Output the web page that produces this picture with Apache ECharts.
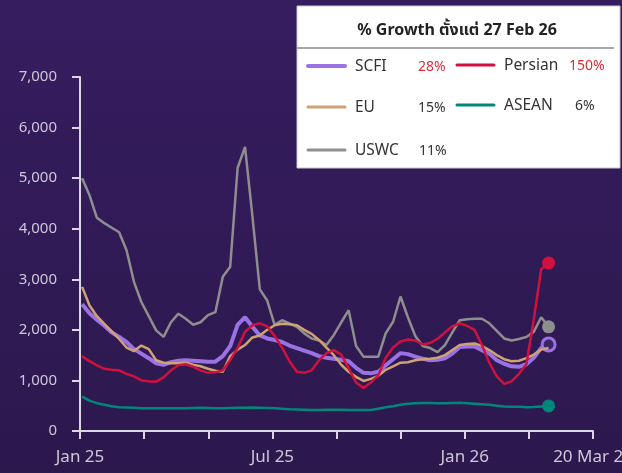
<!DOCTYPE html>
<html>
<head>
<meta charset="utf-8">
<script src="https://cdn.jsdelivr.net/npm/echarts@6/dist/echarts.min.js"></script>
<style>
  html, body { margin: 0; padding: 0; background: #2f1a54; }
  #chart { width: 622px; height: 473px; }
</style>
</head>
<body>
<div id="chart"></div>
<script>
// weekly publication dates (Fridays)
const weekDates = [
  '2025-01-03','2025-01-10','2025-01-17','2025-01-24','2025-01-31',
  '2025-02-07','2025-02-14','2025-02-21','2025-02-28',
  '2025-03-07','2025-03-14','2025-03-21','2025-03-28',
  '2025-04-04','2025-04-11','2025-04-18','2025-04-25',
  '2025-05-02','2025-05-09','2025-05-16','2025-05-23','2025-05-30',
  '2025-06-06','2025-06-13','2025-06-20','2025-06-27',
  '2025-07-04','2025-07-11','2025-07-18','2025-07-25',
  '2025-08-01','2025-08-08','2025-08-15','2025-08-22','2025-08-29',
  '2025-09-05','2025-09-12','2025-09-19','2025-09-26',
  '2025-10-03','2025-10-10','2025-10-17','2025-10-24','2025-10-31',
  '2025-11-07','2025-11-14','2025-11-21','2025-11-28',
  '2025-12-05','2025-12-12','2025-12-19','2025-12-26',
  '2026-01-02','2026-01-09','2026-01-16','2026-01-23','2026-01-30',
  '2026-02-06','2026-02-13','2026-02-20','2026-02-27',
  '2026-03-06','2026-03-13','2026-03-20'
];

const scfi = [
  2505, 2330, 2200, 2080, 1950, 1860, 1760, 1620, 1530, 1440, 1340, 1310, 1360, 1390, 1400, 1390, 1380,
  1370, 1370, 1480, 1680, 2100, 2250, 2060, 1890, 1830, 1800, 1760, 1690, 1640, 1590, 1540, 1480,
  1450, 1430, 1410, 1380, 1250, 1150, 1140, 1170, 1300, 1420, 1540, 1520, 1470, 1430, 1400, 1410,
  1440, 1530, 1660, 1670, 1670, 1600, 1530, 1400, 1330, 1280, 1270, 1320, 1450, 1640, 1710
];
const persian = [
  1480, 1380, 1300, 1230, 1210, 1200, 1130, 1080, 1000, 985, 975, 1060, 1200, 1300, 1320, 1270, 1200,
  1150, 1160, 1200, 1400, 1640, 1960, 2090, 2130, 2070, 1880, 1650, 1380, 1170, 1150, 1200, 1400,
  1540, 1600, 1510, 1240, 960, 850, 960, 1100, 1450, 1650, 1770, 1810, 1790, 1710, 1740, 1820,
  1950, 2070, 2130, 2080, 2000, 1700, 1350, 1080, 930, 980, 1130, 1320, 2200, 3200, 3320
];
const eu = [
  2850, 2480, 2270, 2120, 1970, 1820, 1650, 1580, 1690, 1620, 1400, 1350, 1340, 1340, 1350, 1310, 1280,
  1230, 1190, 1170, 1480, 1610, 1700, 1850, 1890, 2000, 2090, 2120, 2110, 2090, 2000, 1920, 1800,
  1650, 1500, 1310, 1170, 1070, 990, 1030, 1090, 1210, 1280, 1350, 1360, 1400, 1420, 1430, 1450,
  1500, 1600, 1700, 1720, 1730, 1680, 1600, 1500, 1420, 1380, 1390, 1440, 1510, 1610, 1640
];
const asean = [
  680, 600, 550, 520, 490, 470, 465, 460, 450, 450, 450, 450, 450, 450, 450, 455, 460,
  455, 450, 450, 455, 460, 460, 465, 460, 455, 450, 440, 430, 425, 420, 415, 415,
  420, 420, 420, 415, 415, 415, 415, 440, 470, 490, 520, 540, 550, 555, 555, 550,
  550, 555, 560, 550, 540, 530, 520, 500, 485, 480, 480, 470, 475, 485, 495
];
const uswc = [
  5000, 4660, 4215, 4110, 4020, 3930, 3575, 2950, 2550, 2270, 1990, 1860, 2150, 2320, 2220, 2100, 2150,
  2290, 2350, 3050, 3250, 5200, 5620, 4250, 2800, 2580, 2100, 2190, 2130, 2060, 1930, 1830, 1790,
  1700, 1900, 2150, 2390, 1680, 1470, 1470, 1470, 1930, 2160, 2660, 2250, 1880, 1680, 1640, 1560,
  1700, 1950, 2190, 2210, 2220, 2220, 2130, 1980, 1830, 1790, 1820, 1860, 1960, 2250, 2060
];

const seriesNames = ['SCFI', 'Persian', 'EU', 'ASEAN', 'USWC'];
const growth = ['28%', '150%', '15%', '6%', '11%'];
const xTickLabels = ['Jan 25', '', '', 'Jul 25', '', '', 'Jan 26', '', '20 Mar 26'];
const legendTitle = '% Growth ตั้งแต่ 27 Feb 26';

const colors = {
  SCFI: '#9b72e4',
  Persian: '#d0113f',
  EU: '#cfa273',
  ASEAN: '#00877a',
  USWC: '#8e8e8e'
};

const FONT = '"Noto Sans", "Noto Sans Thai", "DejaVu Sans", sans-serif';
const axisColor = '#dcd7e6';
const labelColor = '#cdc7d9';

// x axis in days since 1 Jan 2025, ticks every two months
const dayOf = d => (Date.parse(d) - Date.parse('2025-01-01')) / 86400000;
const xStep = 60.625;

const chart = echarts.init(document.getElementById('chart'));

function lineSeries(name, values, width, z, endItem, endDot) {
  const last = values.length - 1;
  return {
    name: name,
    type: 'line',
    data: values.map((v, i) => [dayOf(weekDates[i]), v]),
    showSymbol: true,
    showAllSymbol: true,
    symbol: 'circle',
    symbolSize: (v, p) => (endDot !== false && p.dataIndex === last ? 13 : 0),
    itemStyle: endItem || { color: colors[name] },
    lineStyle: { color: colors[name], width: width },
    z: z,
    silent: true
  };
}

// legend box drawn by hand (two columns with growth figures)
const legendRows = [
  { name: 'SCFI', x: 308, y: 66 },
  { name: 'Persian', x: 457, y: 65 },
  { name: 'EU', x: 308, y: 107 },
  { name: 'ASEAN', x: 457, y: 105 },
  { name: 'USWC', x: 308, y: 150 }
];
const pctX = { SCFI: 418, Persian: 569, EU: 418, ASEAN: 575, USWC: 419 };

let graphic = [
  { type: 'rect', shape: { x: 297, y: 6, width: 323, height: 162 },
    style: { fill: '#ffffff', stroke: '#c8c8c8', lineWidth: 1 }, z: 10 },
  { type: 'text', style: { text: legendTitle, x: 457, y: 30, textAlign: 'center', textVerticalAlign: 'middle',
      font: 'bold 16px ' + FONT, fill: '#222' }, z: 11 },
  { type: 'line', shape: { x1: 297, y1: 48, x2: 614, y2: 48 }, style: { stroke: '#8a8a8a', lineWidth: 1.5 }, z: 11 }
];
legendRows.forEach(r => {
  const i = seriesNames.indexOf(r.name);
  graphic.push({ type: 'line', shape: { x1: r.x, y1: r.y, x2: r.x + 37, y2: r.y },
    style: { stroke: colors[r.name], lineWidth: r.name === 'SCFI' ? 4 : 3, lineCap: 'round' }, z: 11 });
  graphic.push({ type: 'text', style: { text: r.name, x: r.x + 47, y: r.y + 1, textVerticalAlign: 'middle',
    font: '15.5px ' + FONT, fill: '#333' }, z: 11 });
  const red = r.name === 'SCFI' || r.name === 'Persian';
  graphic.push({ type: 'text', style: { text: growth[i], x: pctX[r.name], y: r.y + 1, textVerticalAlign: 'middle',
    font: '14px ' + FONT, fill: red ? '#dd2b3a' : '#333' }, z: 11 });
});

const option = {
  animation: false,
  backgroundColor: {
    type: 'linear', x: 0, y: 0, x2: 0, y2: 1,
    colorStops: [{ offset: 0, color: '#361d60' }, { offset: 1, color: '#2c184d' }]
  },
  grid: { left: 80, right: 29, top: 77, bottom: 42, outerBoundsMode: 'none' },
  xAxis: {
    type: 'value',
    min: 0,
    max: xStep * 8,
    interval: xStep,
    axisLine: { lineStyle: { color: axisColor, width: 2 } },
    axisTick: { show: true, length: 8, lineStyle: { color: axisColor, width: 2 } },
    splitLine: { show: false },
    axisLabel: {
      color: labelColor, fontSize: 17, fontFamily: FONT, margin: 18,
      showMinLabel: true, showMaxLabel: true,
      formatter: v => xTickLabels[Math.round(v / xStep)] || ''
    }
  },
  yAxis: {
    type: 'value',
    min: 0,
    max: 7000,
    interval: 1000,
    axisLine: { show: true, lineStyle: { color: axisColor, width: 2 } },
    axisTick: { show: true, length: 8, lineStyle: { color: axisColor, width: 2 } },
    splitLine: { show: false },
    axisLabel: {
      color: labelColor, fontSize: 15, fontFamily: FONT, margin: 23,
      formatter: v => v.toLocaleString('en-US')
    }
  },
  series: [
    lineSeries('USWC', uswc, 2.5, 2),
    lineSeries('SCFI', scfi, 4, 3, { color: '#3c2469', borderColor: colors.SCFI, borderWidth: 3 }),
    lineSeries('EU', eu, 2.5, 4, null, false),
    lineSeries('ASEAN', asean, 2.5, 4),
    lineSeries('Persian', persian, 2.5, 5)
  ],
  graphic: graphic
};

chart.setOption(option);
</script>
</body>
</html>
